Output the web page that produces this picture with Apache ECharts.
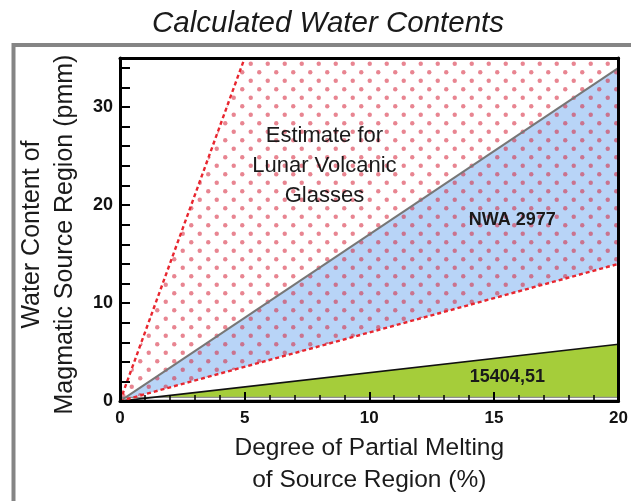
<!DOCTYPE html>
<html><head><meta charset="utf-8">
<script src="https://cdn.jsdelivr.net/npm/echarts@6/dist/echarts.min.js"></script>
<style>html,body{margin:0;padding:0;background:#fff}#c{width:631px;height:501px}</style>
</head><body><div id="c"></div>
<script>
// ---- data ----
const meltRange = [0, 20];          // x extent, Degree of partial melting (%)
const waterRange = [0, 35];         // y extent, water content (ppm)
const glassUpper = [[0, 0], [5, 35]];     // steep red dashed line (lunar glasses upper)
const nwaUpper = [[0, 0], [20, 34]];      // gray line (NWA 2977 upper)
const nwaLower = [[0, 0], [20, 14]];      // red dashed line (NWA 2977 / glasses lower)
const lunarUpper = [[0, 0], [20, 5.8]];   // black line (15404,51 upper)
const lunarBase = [[0, 0.25], [20, 0.25]];// gray/white base line
const labelTexts = ['Estimate for\nLunar Volcanic\nGlasses', 'NWA 2977', '15404,51'];
const labelAt = [[8.2, 24.0], [15.74, 18.46], [15.54, 2.46]];

const FONT = "'Liberation Sans', Arial, Helvetica, sans-serif";

function dotPattern() {
  const s = 17, c = document.createElement('canvas');
  c.width = s; c.height = s;
  const g = c.getContext('2d');
  g.fillStyle = 'rgba(215,45,65,0.58)';
  [[s / 4, s / 4], [3 * s / 4, 3 * s / 4]].forEach(([x, y]) => {
    g.beginPath(); g.arc(x, y, 2.2, 0, Math.PI * 2); g.fill();
  });
  return c;
}

function polySeries(name, pts, fill, z) {
  return {
    type: 'custom', name, z, silent: true, clip: true,
    coordinateSystem: 'cartesian2d', data: [[0, 0]],
    renderItem: (params, api) => ({
      type: 'polygon',
      shape: { points: pts.map(p => api.coord(p)) },
      style: { fill }
    })
  };
}
function lineSeries(name, pts, color, width, type, z) {
  return {
    type: 'line', name, z, data: pts, symbol: 'none', silent: true,
    lineStyle: { color, width, type }
  };
}

const chart = echarts.init(document.getElementById('c'), null, { renderer: 'canvas' });

const dotted = [nwaLower[0], glassUpper[1], [meltRange[1], waterRange[1]], nwaLower[1]];
const blue = [nwaLower[0], nwaUpper[1], nwaLower[1]];
const green = [lunarUpper[0], lunarUpper[1], [meltRange[1], 0], [0, 0]];

const option = {
  animation: false,
  backgroundColor: '#fff',
  title: {
    text: 'Calculated Water Contents', left: 323, top: 4, textAlign: 'center',
    textStyle: { fontFamily: FONT, fontSize: 29.5, fontStyle: 'italic', fontWeight: 'normal', color: '#1a1a1a' }
  },
  graphic: [{
    type: 'rect', shape: { x: 13.5, y: 45, width: 700, height: 600 },
    style: { fill: 'none', stroke: '#858585', lineWidth: 4 }, z: 0
  }],
  grid: { left: 120, right: 11, top: 58, bottom: 95 },
  xAxis: [{
    type: 'value', min: meltRange[0], max: meltRange[1], interval: 5, z: 10, position: 'bottom',
    axisLine: { onZero: false, lineStyle: { color: '#000', width: 3 } },
    axisTick: { inside: true, length: 9, lineStyle: { color: '#000', width: 2 } },
    minorTick: { show: true, splitNumber: 5, length: 6, lineStyle: { color: '#000', width: 1.5 } },
    splitLine: { show: false },
    axisLabel: { margin: 9, fontFamily: FONT, fontSize: 17, fontWeight: 'bold', color: '#111' },
    name: 'Degree of Partial Melting\nof Source Region (%)', nameLocation: 'middle', nameGap: 20,
    nameTextStyle: { fontFamily: FONT, fontSize: 24.5, color: '#1a1a1a', lineHeight: 32, verticalAlign: 'top' }
  }, {
    type: 'value', position: 'top', min: meltRange[0], max: meltRange[1], z: 10,
    axisLine: { show: true, onZero: false, lineStyle: { color: '#000', width: 3 } },
    axisTick: { show: false }, axisLabel: { show: false }, splitLine: { show: false }
  }],
  yAxis: [{
    type: 'value', min: waterRange[0], max: waterRange[1], interval: 2, z: 10, position: 'left',
    axisLine: { show: true, onZero: false, lineStyle: { color: '#000', width: 3 } },
    axisTick: { show: true, inside: true, length: 10, lineStyle: { color: '#000', width: 2 } },
    splitLine: { show: false },
    axisLabel: {
      margin: 7, fontFamily: FONT, fontSize: 18, fontWeight: 'bold', color: '#111',
      formatter: v => (v % 10 === 0 ? String(v) : '')
    },
    name: 'Water Content of\nMagmatic Source Region (pmm)', nameLocation: 'middle', nameGap: 22, nameRotate: 90,
    nameTextStyle: { fontFamily: FONT, fontSize: 25, color: '#1a1a1a', lineHeight: 33, padding: [0, 10, 0, 0] }
  }, {
    type: 'value', position: 'right', min: waterRange[0], max: waterRange[1], z: 10,
    axisLine: { show: true, onZero: false, lineStyle: { color: '#000', width: 3 } },
    axisTick: { show: false }, axisLabel: { show: false }, splitLine: { show: false }
  }],
  series: [
    polySeries('15404,51', green, '#a5cd3a', 2),
    polySeries('NWA 2977', blue, '#b8d4f7', 3),
    polySeries('Lunar Volcanic Glasses', dotted, { image: dotPattern(), repeat: 'repeat' }, 4),
    lineSeries('base', lunarBase, '#8f8f8f', 4, 'solid', 5),
    lineSeries('base2', lunarBase, '#ffffff', 1.5, 'solid', 6),
    lineSeries('lunarUpper', lunarUpper, '#111', 1.6, 'solid', 6),
    lineSeries('nwaUpper', nwaUpper, '#777', 2, 'solid', 6),
    lineSeries('nwaLower', nwaLower, '#e8262f', 2.4, [4, 3], 7),
    lineSeries('glassUpper', glassUpper, '#e8262f', 2.4, [4, 3], 7),
    {
      type: 'custom', name: 'labels', z: 20, silent: true, clip: false,
      coordinateSystem: 'cartesian2d', data: labelAt,
      renderItem: (params, api) => {
        const i = params.dataIndex;
        const p = api.coord([api.value(0), api.value(1)]);
        const big = i === 0;
        return {
          type: 'text', x: p[0], y: p[1],
          style: {
            text: labelTexts[i], align: 'center', verticalAlign: 'middle',
            font: (big ? 'normal 22px ' : 'bold 18px ') + FONT,
            lineHeight: big ? 30 : 20, fill: '#1a1a1a'
          }
        };
      }
    }
  ]
};
chart.setOption(option);
</script></body></html>
